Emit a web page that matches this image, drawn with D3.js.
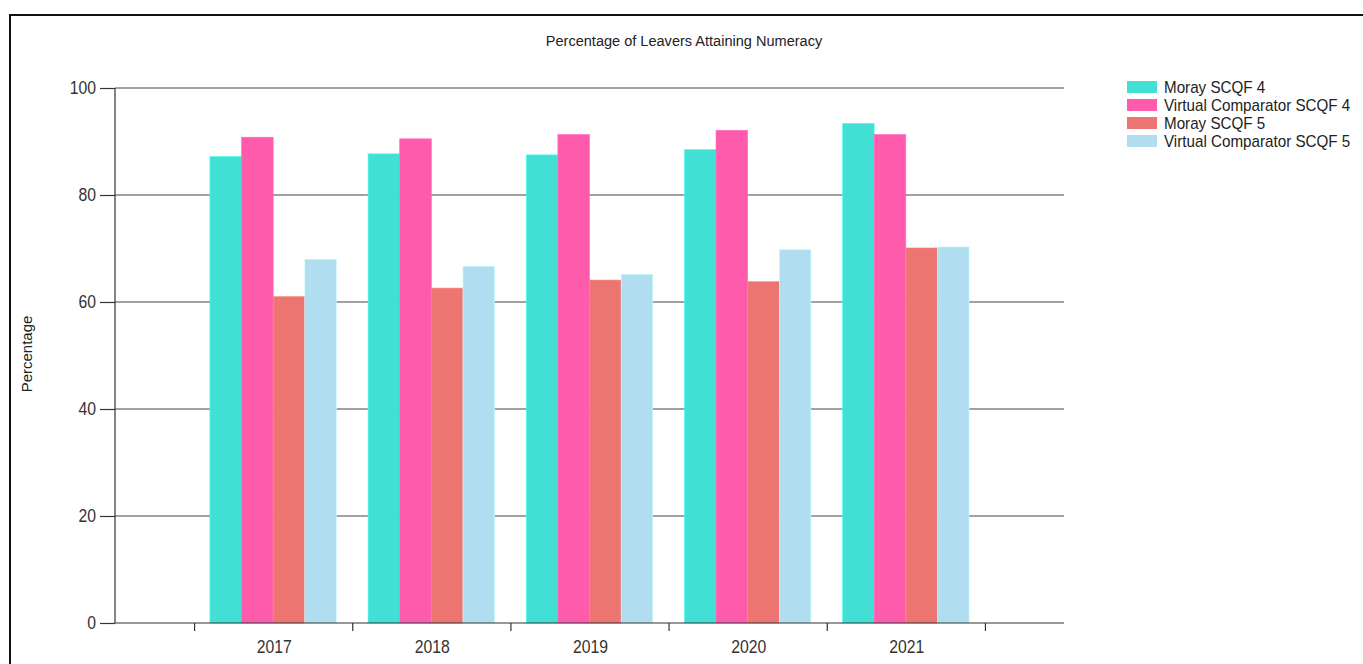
<!DOCTYPE html>
<html><head><meta charset="utf-8">
<script src="https://cdn.jsdelivr.net/npm/d3@7"></script>
<style>body{margin:0;background:#fff;}svg{display:block;font-family:"Liberation Sans",Arial,sans-serif;}</style>
</head><body>
<svg id="chart" width="1363" height="664"></svg>
<script>
const categories = ["2017", "2018", "2019", "2020", "2021"];
const seriesNames = ["Moray SCQF 4", "Virtual Comparator SCQF 4", "Moray SCQF 5", "Virtual Comparator SCQF 5"];
const morayScqf4 = [87.2, 87.7, 87.5, 88.5, 93.4];
const virtualScqf4 = [90.8, 90.5, 91.3, 92.1, 91.3];
const morayScqf5 = [61.0, 62.6, 64.1, 63.8, 70.1];
const virtualScqf5 = [68.0, 66.7, 65.2, 69.8, 70.3];
const yTicks = [0, 20, 40, 60, 80, 100];
const colors = ["#42E0D4", "#FF5BAC", "#EC7571", "#B0DEF0"];
const seriesValues = [morayScqf4, virtualScqf4, morayScqf5, virtualScqf5];

const svg = d3.select("#chart");
const mLeft = 115, mRight = 1064, mTop = 88, mBottom = 623;

function squeezed(g, x, y, txt, size, sx, anchor, fill) {
  return g.append("text")
    .attr("transform", `translate(${x},${y}) scale(${sx},1)`)
    .attr("text-anchor", anchor).attr("font-size", size).attr("fill", fill || "#333").text(txt);
}

// frame
svg.append("path").attr("d", "M10,664 L10,15 L1363,15").attr("fill", "none").attr("stroke", "#111").attr("stroke-width", 2);

const x = d3.scaleLinear().domain([0, categories.length + 1]).range([mLeft, mRight]);
const y = d3.scaleLinear().domain([0, 100]).range([mBottom, mTop]);
const slot = x(1) - x(0);
const groupW = slot * 0.8;
const barW = groupW / seriesNames.length;

// gridlines
svg.append("g").selectAll("line").data(yTicks.filter(d => d > 0)).join("line")
  .attr("x1", mLeft).attr("x2", mRight).attr("y1", d => y(d)).attr("y2", d => y(d))
  .attr("stroke", "#444").attr("stroke-width", 1.2);

// bars
seriesValues.forEach((vals, si) => {
  svg.append("g").selectAll("rect").data(vals).join("rect")
    .attr("x", (d, i) => x(i + 1) - groupW / 2 + si * barW)
    .attr("width", barW)
    .attr("y", d => y(d))
    .attr("height", d => y(0) - y(d))
    .attr("fill", colors[si])
    .attr("stroke", d3.color(colors[si]).brighter(0.4))
    .attr("stroke-width", 0.6);
});

// y axis
const yAxis = d3.axisLeft(y).tickValues(yTicks).tickSize(15).tickFormat("");
const gy = svg.append("g").attr("transform", `translate(${mLeft},0)`).call(yAxis);
gy.select(".domain").attr("stroke", "#333").attr("stroke-width", 1.2).attr("d", `M0,${mTop}V${mBottom}`);
gy.selectAll(".tick line").attr("stroke", "#333").attr("stroke-width", 1.2);
const yl = svg.append("g");
yTicks.forEach(t => squeezed(yl, 96, y(t) + 6, String(t), 19, 0.83, "end", "#333"));

// x axis: ticks at slot boundaries, labels at centers
const boundaries = d3.range(categories.length + 1).map(i => i + 0.5);
const xAxis = d3.axisBottom(x).tickValues(boundaries).tickSize(8).tickFormat("");
const gx = svg.append("g").attr("transform", `translate(0,${mBottom})`).call(xAxis);
gx.select(".domain").attr("stroke", "#333").attr("stroke-width", 1.2).attr("d", `M${mLeft},0H${mRight}`);
gx.selectAll(".tick line").attr("stroke", "#333").attr("stroke-width", 1.2);
const xl = svg.append("g");
categories.forEach((c, i) => squeezed(xl, x(i + 1) + 1, mBottom + 30, c, 19, 0.83, "middle", "#333"));

// title
squeezed(svg, 684, 46, "Percentage of Leavers Attaining Numeracy", 15, 0.97, "middle", "#222");

// y label
svg.append("text").attr("transform", "translate(32,354) rotate(-90)").attr("text-anchor", "middle")
  .attr("font-size", 15).attr("fill", "#222").text("Percentage");

// legend
const lg = svg.append("g").attr("transform", "translate(1127,81)");
seriesNames.forEach((n, i) => {
  lg.append("rect").attr("x", 0).attr("y", i * 18).attr("width", 30).attr("height", 12).attr("fill", colors[i]);
  squeezed(lg, 37, i * 18 + 12, n, 16, 0.95, "start", "#222");
});
</script>
</body></html>
